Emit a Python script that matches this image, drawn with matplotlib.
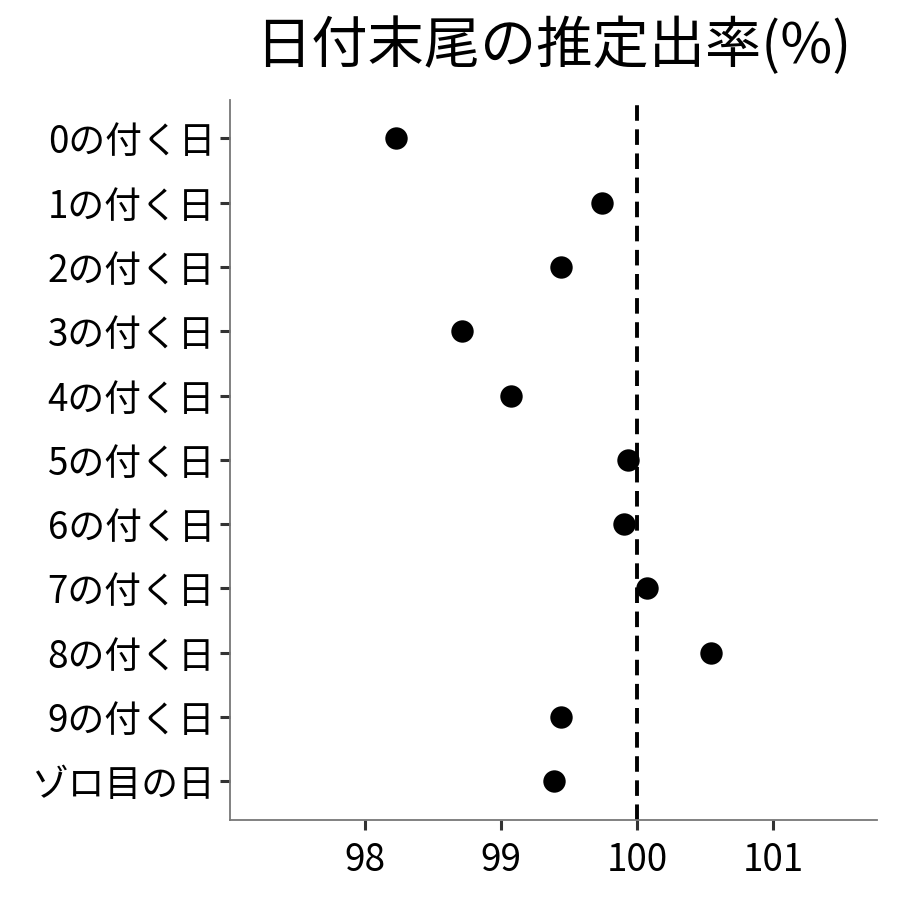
import matplotlib
matplotlib.use("Agg")
import matplotlib.pyplot as plt

plt.rcParams["font.family"] = ["Noto Sans CJK JP", "DejaVu Sans"]

labels = ["0の付く日", "1の付く日", "2の付く日", "3の付く日", "4の付く日",
          "5の付く日", "6の付く日", "7の付く日", "8の付く日", "9の付く日", "ゾロ目の日"]
rates = [98.23, 99.74, 99.44, 98.71, 99.07, 99.93, 99.90, 100.07, 100.54, 99.44, 99.39]
ref_rate = 100
xticks = [98, 99, 100, 101]

fig = plt.figure(figsize=(9, 9), dpi=100)
ax = fig.add_axes([0.256, 0.089, 0.718, 0.80])

ypos = list(range(len(labels)))[::-1]
ax.scatter(rates, ypos, s=260, color="black", zorder=3, linewidths=0)
ax.axvline(ref_rate, color="black", linestyle=(0, (4, 2.2)), linewidth=2.8)

ax.set_xlim(97.01, 101.76)
ax.set_ylim(-0.6, 10.6)
ax.set_xticks(xticks)
ax.set_yticks(ypos)
ax.set_yticklabels(labels)
ax.tick_params(axis="both", labelsize=26.5, length=7, width=2.2, color="#333333", pad=4)
ax.tick_params(axis="x", pad=8)

for s in ["top", "right"]:
    ax.spines[s].set_visible(False)
for s in ["left", "bottom"]:
    ax.spines[s].set_color("#777777")
    ax.spines[s].set_linewidth(1.3)

fig.text(0.615, 0.948, "日付末尾の推定出率(%)", fontsize=40.5, ha="center", va="center")

fig.savefig("out.png", dpi=100, facecolor="white")
